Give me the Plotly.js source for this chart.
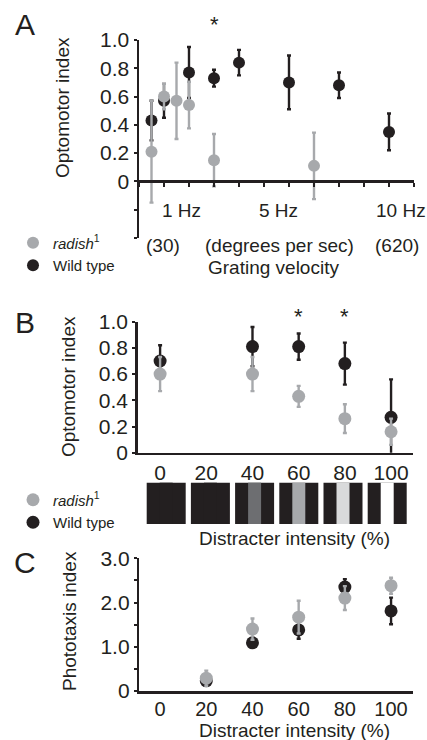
<!DOCTYPE html>
<html>
<head>
<meta charset="utf-8">
<script src="https://cdn.plot.ly/plotly-3.0.1.min.js"></script>
<style>html,body{margin:0;padding:0;background:#fff;}#chart{width:427px;height:740px;}</style>
</head>
<body>
<div id="chart"></div>
<script>
// ---------- DATA ----------
// Panel A: grating velocity (axis units; 1 unit = 1 tick)
const wtA_x = [0.5, 1, 2, 3, 4, 6, 8, 10];
const wtA_y = [0.43, 0.57, 0.77, 0.73, 0.84, 0.70, 0.68, 0.35];
const wtA_err = [0.14, 0.12, 0.18, 0.06, 0.09, 0.19, 0.09, 0.13];
const radA_x = [0.5, 1, 1.5, 2, 3, 7];
const radA_y = [0.21, 0.60, 0.57, 0.54, 0.15, 0.11];
const radA_err = [0.36, 0.09, 0.27, 0.165, 0.185, 0.235];
const hzLabels = ['1 Hz', '5 Hz', '10 Hz'];
const velLabels = ['(30)', '(degrees per sec)', '(620)'];
const yTicksA = [0, 0.2, 0.4, 0.6, 0.8, 1.0];
const yTextA = ['0', '0.2', '0.4', '0.6', '0.8', '1.0'];

// Panel B: distracter intensity
const intensity = [0, 20, 40, 60, 80, 100];
const wtB_x = [0, 40, 60, 80, 100];
const wtB_y = [0.70, 0.81, 0.81, 0.68, 0.27];
const wtB_err = [0.12, 0.15, 0.10, 0.16, 0.29];
const radB_x = [0, 40, 60, 80, 100];
const radB_y = [0.60, 0.60, 0.43, 0.26, 0.16];
const radB_err = [0.13, 0.13, 0.08, 0.11, 0.10];
const yTicksB = [0, 0.2, 0.4, 0.6, 0.8, 1.0];
const yTextB = ['0', '0.2', '0.4', '0.6', '0.8', '1.0'];
const sigB = [60, 80];

// Panel C: phototaxis
const wtC_x = [20, 40, 60, 80, 100];
const wtC_y = [0.23, 1.09, 1.38, 2.35, 1.81];
const wtC_err = [0.06, 0.05, 0.20, 0.18, 0.30];
const radC_x = [20, 40, 60, 80, 100];
const radC_y = [0.29, 1.40, 1.67, 2.10, 2.38];
const radC_err = [0.17, 0.24, 0.37, 0.27, 0.18];
const yTicksC = [0, 1, 2, 3];
const yTextC = ['0', '1.0', '2.0', '3.0'];

// ---------- STYLE ----------
const FONT = 'Liberation Sans, Arial, Helvetica, sans-serif';
const BLACK = '#231f20', GRAY = '#a7a9ac', TXT = '#231f20';
const stripeColors = ['#231f20', '#231f20', '#6d6e71', '#a7a9ac', '#d9dadb', '#ffffff'];
const W = 427, H = 740;
const px = p => p / W;
const py = p => 1 - p / H;

function series(x, y, err, color, name, xa, ya, leg, rank, show, msize) {
  return {
    type: 'scatter', mode: 'markers', x: x, y: y, name: name,
    xaxis: xa, yaxis: ya, legend: leg, legendrank: rank, showlegend: show,
    cliponaxis: false,
    marker: {size: msize, color: color},
    error_y: {type: 'data', array: err, visible: true, color: color, thickness: 2.4, width: 2}
  };
}
const RAD = '<i>radish</i><sup>1</sup>';
const data = [
  series(wtA_x, wtA_y, wtA_err, BLACK, 'Wild type', 'x', 'y', 'legend', 2, true, 12),
  series(radA_x, radA_y, radA_err, GRAY, RAD, 'x', 'y', 'legend', 1, true, 12),
  series(wtB_x, wtB_y, wtB_err, BLACK, 'Wild type', 'x2', 'y2', 'legend2', 2, true, 13),
  series(radB_x, radB_y, radB_err, GRAY, RAD, 'x2', 'y2', 'legend2', 1, true, 13),
  series(wtC_x, wtC_y, wtC_err, BLACK, 'Wild type', 'x3', 'y3', 'legend', 2, false, 13),
  series(radC_x, radC_y, radC_err, GRAY, RAD, 'x3', 'y3', 'legend', 1, false, 13)
];

const axBase = {
  showline: true, linewidth: 2.5, linecolor: BLACK, showgrid: false, zeroline: false,
  ticks: 'outside', ticklen: 3, tickwidth: 2, tickcolor: BLACK,
  tickfont: {family: FONT, size: 21, color: TXT}, fixedrange: true
};

const annotations = [];
function ann(text, x, y, opts) {
  annotations.push(Object.assign({text: text, x: x, y: y, xref: 'paper', yref: 'paper',
    showarrow: false, xanchor: 'center', yanchor: 'middle',
    font: {family: FONT, size: 19, color: TXT}}, opts || {}));
}
// Panel letters
ann('A', px(25), py(25), {font: {family: FONT, size: 30, color: TXT}});
ann('B', px(25), py(322), {font: {family: FONT, size: 30, color: TXT}});
ann('C', px(25), py(562), {font: {family: FONT, size: 30, color: TXT}});
// Y titles
ann('Optomotor index', px(62), py(108), {textangle: -90});
ann('Optomotor index', px(68), py(387), {textangle: -90});
ann('Phototaxis index', px(69), py(621), {textangle: -90});
// Panel A x labels
const hzPx = [181.7, 278.3, 400.8];
hzLabels.forEach((t, i) => ann(t, px(hzPx[i]), py(210)));
const velPx = [162.5, 279, 396.7];
velLabels.forEach((t, i) => ann(t, px(velPx[i]), py(245)));
ann('Grating velocity', px(273), py(267));
// X titles B/C
ann('Distracter intensity (%)', px(294), py(538));
ann('Distracter intensity (%)', px(294), py(730));
// significance asterisks
ann('*', 3, py(25), {xref: 'x', font: {family: FONT, size: 22, color: TXT}});
sigB.forEach(v => ann('*', v, py(316), {xref: 'x2', font: {family: FONT, size: 22, color: TXT}}));

// stimulus boxes under panel B
const shapes = [];
intensity.forEach((v, i) => {
  const left = 146.7 + i * 44.2;
  shapes.push({type: 'rect', xref: 'paper', yref: 'paper', x0: px(left), x1: px(left + 39),
    y0: py(524), y1: py(482.7), fillcolor: BLACK, line: {width: 0}, layer: 'above'});
  shapes.push({type: 'rect', xref: 'paper', yref: 'paper', x0: px(left + 13), x1: px(left + 26),
    y0: py(524), y1: py(482.7), fillcolor: stripeColors[i], line: {width: 0}, layer: 'above'});
});

const legendBase = {
  xanchor: 'left', yanchor: 'top', bgcolor: 'rgba(0,0,0,0)', borderwidth: 0,
  font: {family: FONT, size: 15, color: TXT}, itemclick: false, itemdoubleclick: false
};

const minorTicks = step => ({dtick: step, ticks: 'outside', ticklen: 3, tickwidth: 2, tickcolor: BLACK, showgrid: false});

const layout = {
  width: W, height: H, margin: {l: 0, r: 0, t: 0, b: 0},
  paper_bgcolor: '#fff', plot_bgcolor: '#fff',
  font: {family: FONT, size: 19, color: TXT},
  showlegend: true,
  legend: Object.assign({x: px(13), y: py(226.5)}, legendBase),
  legend2: Object.assign({x: px(13), y: py(483.5)}, legendBase),
  xaxis: Object.assign({}, axBase, {domain: [px(139), px(414)], range: [0, 11], anchor: 'free',
    position: py(181), tick0: 0, dtick: 1, ticklen: 4, showticklabels: false}),
  yaxis: Object.assign({}, axBase, {domain: [py(238), py(40)], range: [-0.4, 1.0], anchor: 'x',
    tickmode: 'array', tickvals: yTicksA, ticktext: yTextA,
    minor: Object.assign({tick0: 0}, minorTicks(0.2))}),
  xaxis2: Object.assign({}, axBase, {domain: [px(137.7), px(413)], range: [-9.7, 109.5], anchor: 'y2',
    tickmode: 'array', tickvals: intensity, ticktext: intensity.map(String), ticks: '',
    tickfont: {family: FONT, size: 21, color: TXT}}),
  yaxis2: Object.assign({}, axBase, {domain: [py(452.7), py(321.7)], range: [0, 1.0], anchor: 'x2',
    tickmode: 'array', tickvals: yTicksB, ticktext: yTextB}),
  xaxis3: Object.assign({}, axBase, {domain: [px(139.3), px(413)], range: [-9.0, 109.5], anchor: 'y3',
    tickmode: 'array', tickvals: intensity, ticktext: intensity.map(String), ticks: '',
    ticklabelstandoff: -2, tickfont: {family: FONT, size: 20, color: TXT}}),
  yaxis3: Object.assign({}, axBase, {domain: [py(691), py(558.3)], range: [0, 3], anchor: 'x3',
    tickmode: 'array', tickvals: yTicksC, ticktext: yTextC,
    minor: Object.assign({tick0: 0}, minorTicks(0.5))}),
  annotations: annotations,
  shapes: shapes
};

Plotly.newPlot('chart', data, layout, {staticPlot: true, displayModeBar: false});
</script>
</body>
</html>
